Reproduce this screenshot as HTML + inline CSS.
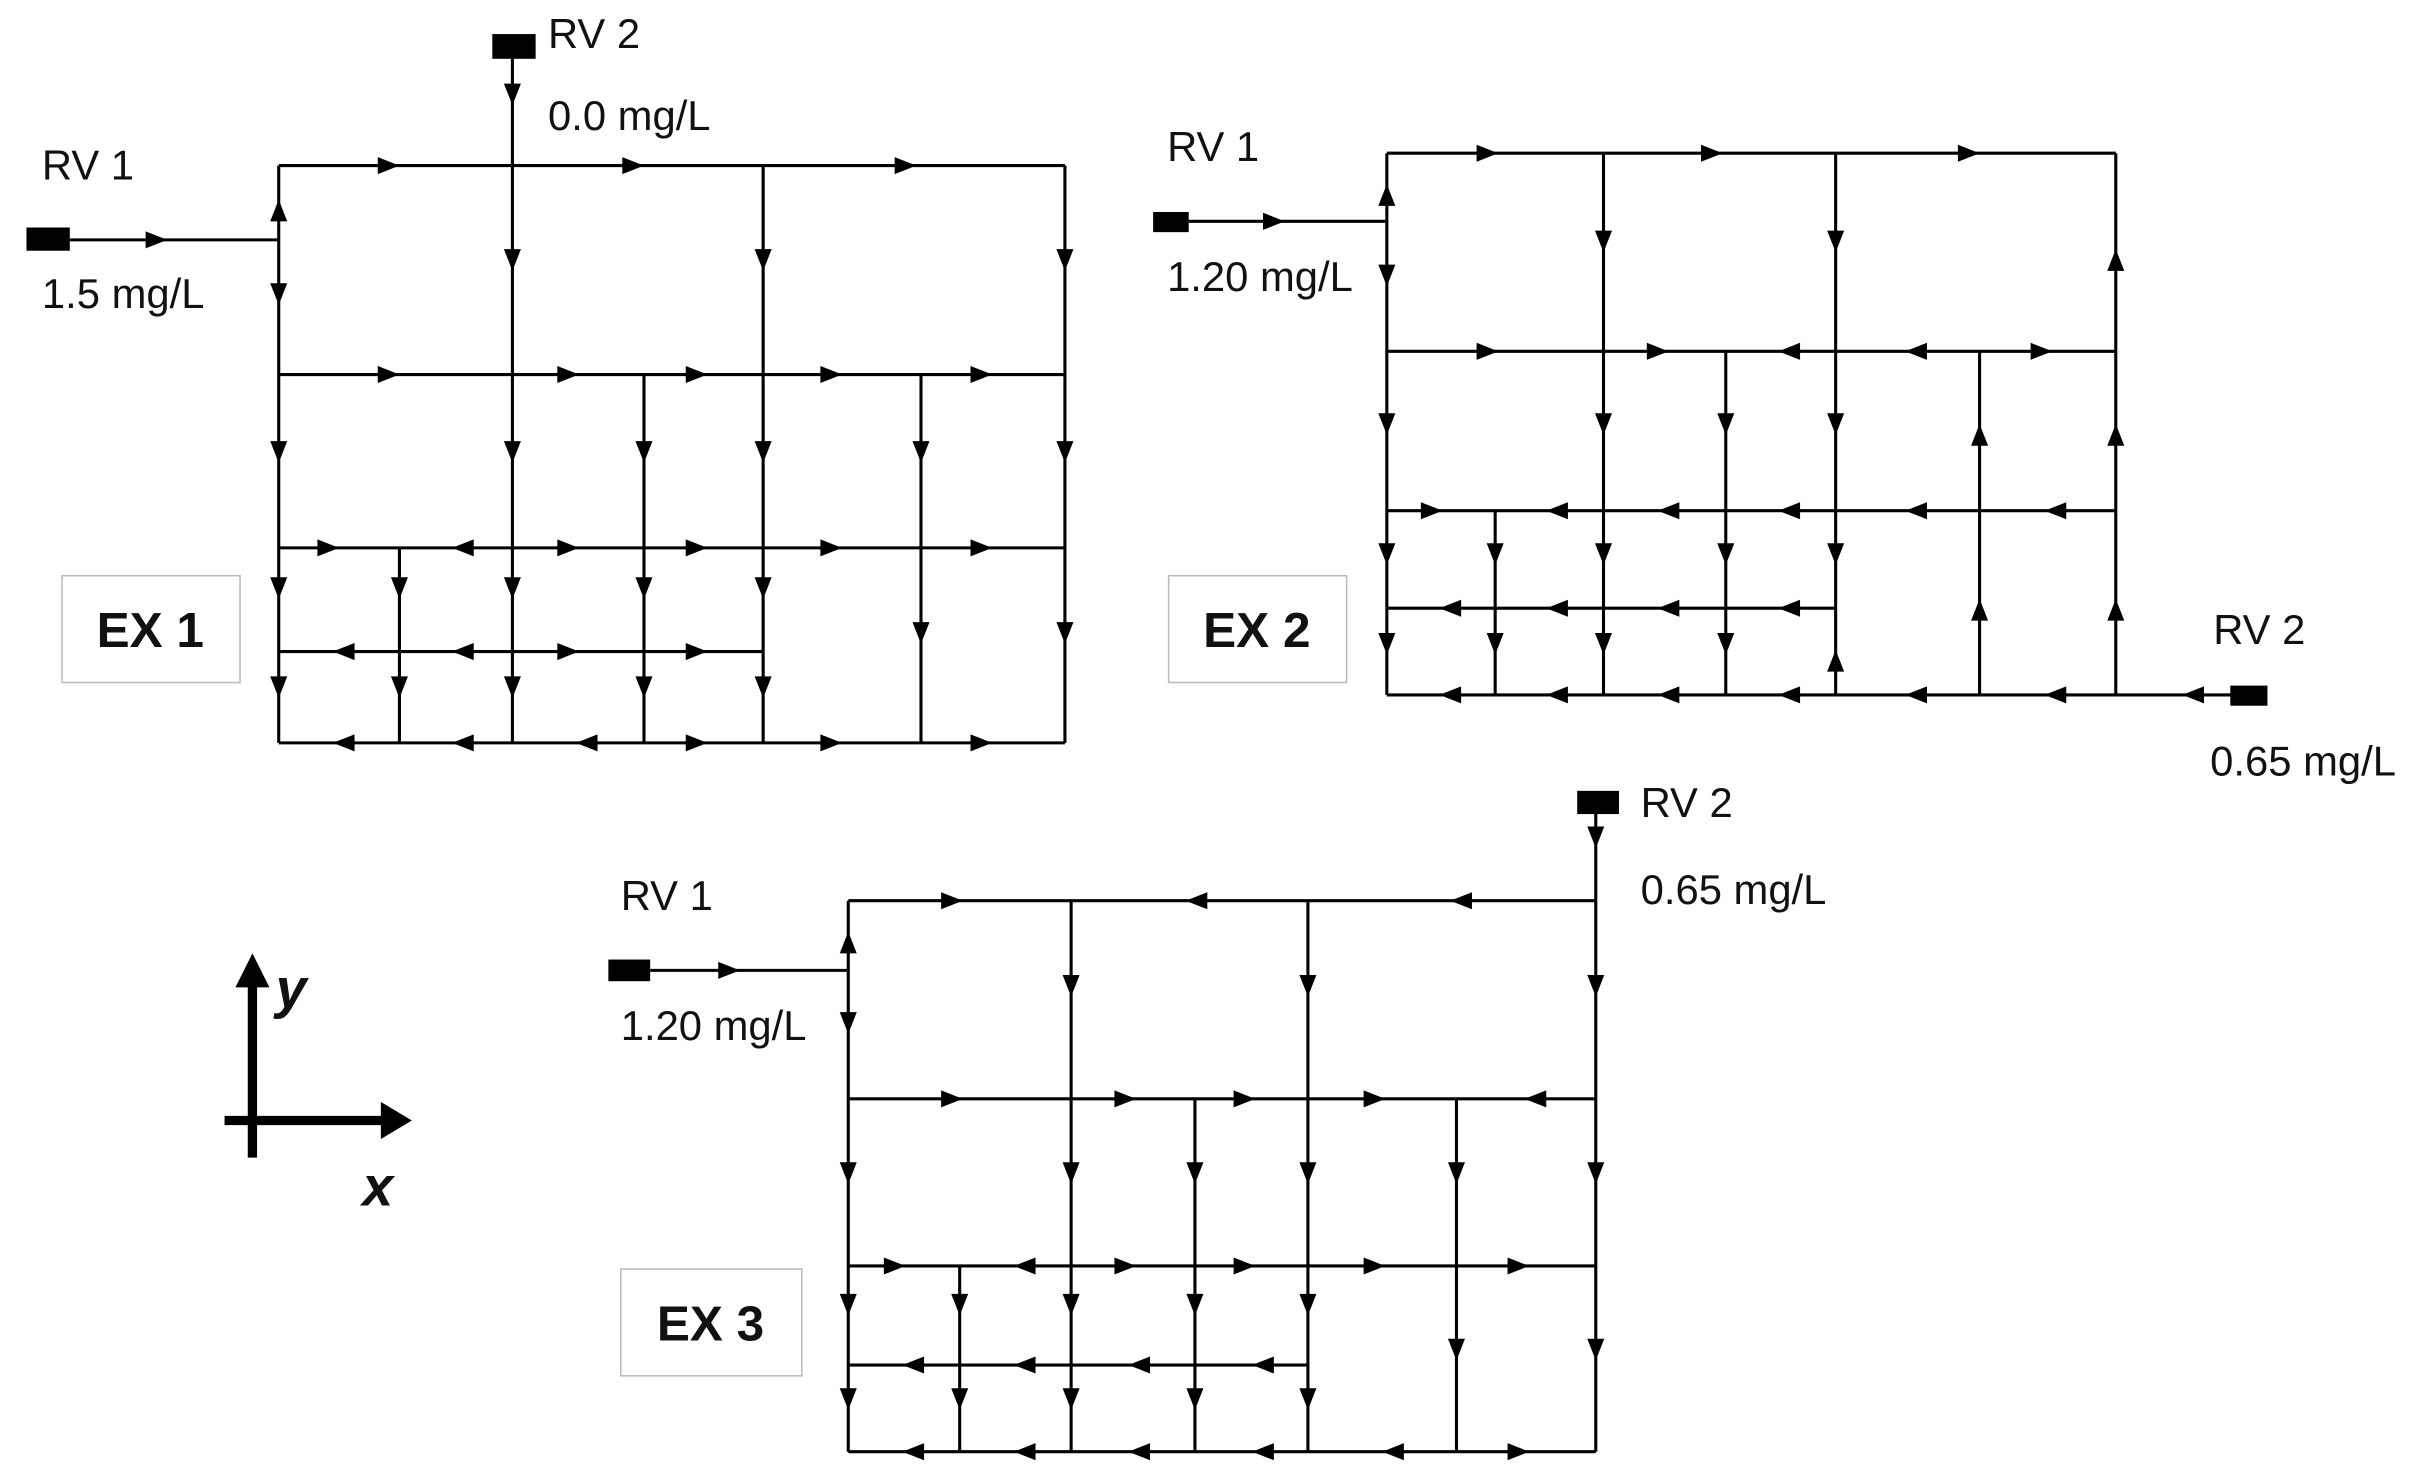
<!DOCTYPE html>
<html><head><meta charset="utf-8"><style>
html,body{margin:0;padding:0;background:#fff;}
svg{display:block;}
text{font-family:"Liberation Sans",sans-serif;fill:#111;}
</style></head><body>
<svg width="2427" height="1478" viewBox="0 0 1568 955" xmlns="http://www.w3.org/2000/svg">
<defs>
<path id="r" d="M-6,-5.5 L8,0 L-6,5.5Z" fill="#000"/>
<path id="l" d="M6,-5.5 L-8,0 L6,5.5Z" fill="#000"/>
<path id="u" d="M-5.5,6 L0,-8 L5.5,6Z" fill="#000"/>
<path id="d" d="M-5.5,-6 L0,8 L5.5,-6Z" fill="#000"/>
</defs>
<g stroke="#000" stroke-width="2" fill="none">
<path d="M180,107H688M180,242H688M180,354H688M180,421H493M180,480H688M180,107V480M331,30V480M416,242V480M493,107V480M258,354V480M595,242V480M688,107V480M45,155H180"/>
<path d="M896,99H1367M896,227H1367M896,330H1367M896,393H1186M896,449H1455M896,99V449M1036,99V449M1115,227V449M1186,99V449M966,330V449M1279,227V449M1367,99V449M768,143H896"/>
<path d="M548,582H1031M548,710H1031M548,818H1031M548,882H845M548,938H1031M548,582V938M692,582V938M772,710V938M845,582V938M620,818V938M941,710V938M1031,520V938M420,627H548"/>
</g>
<rect x="17" y="147" width="28" height="15" fill="#000"/>
<rect x="318" y="22" width="28" height="16" fill="#000"/>
<rect x="745" y="137" width="23" height="13" fill="#000"/>
<rect x="1441" y="443" width="24" height="13" fill="#000"/>
<rect x="393" y="620" width="27" height="14" fill="#000"/>
<rect x="1019" y="511" width="27" height="15" fill="#000"/>
<use href="#r" x="100" y="155"/><use href="#d" x="331" y="60"/>
<use href="#r" x="250" y="107"/><use href="#r" x="408" y="107"/><use href="#r" x="584" y="107"/>
<use href="#r" x="250" y="242"/><use href="#r" x="366" y="242"/><use href="#r" x="449" y="242"/><use href="#r" x="536" y="242"/><use href="#r" x="633" y="242"/>
<use href="#r" x="211" y="354"/><use href="#l" x="300" y="354"/><use href="#r" x="366" y="354"/><use href="#r" x="449" y="354"/><use href="#r" x="536" y="354"/><use href="#r" x="633" y="354"/>
<use href="#l" x="223" y="421"/><use href="#l" x="300" y="421"/><use href="#r" x="366" y="421"/><use href="#r" x="449" y="421"/>
<use href="#l" x="223" y="480"/><use href="#l" x="300" y="480"/><use href="#l" x="380" y="480"/><use href="#r" x="449" y="480"/><use href="#r" x="536" y="480"/><use href="#r" x="633" y="480"/>
<use href="#u" x="180" y="137"/><use href="#d" x="180" y="189"/><use href="#d" x="180" y="291"/><use href="#d" x="180" y="379"/><use href="#d" x="180" y="443"/>
<use href="#d" x="331" y="167"/><use href="#d" x="331" y="291"/><use href="#d" x="331" y="379"/><use href="#d" x="331" y="443"/>
<use href="#d" x="416" y="291"/><use href="#d" x="416" y="379"/><use href="#d" x="416" y="443"/>
<use href="#d" x="493" y="167"/><use href="#d" x="493" y="291"/><use href="#d" x="493" y="379"/><use href="#d" x="493" y="443"/>
<use href="#d" x="258" y="379"/><use href="#d" x="258" y="443"/>
<use href="#d" x="595" y="291"/><use href="#d" x="595" y="408"/>
<use href="#d" x="688" y="167"/><use href="#d" x="688" y="291"/><use href="#d" x="688" y="408"/>
<use href="#r" x="822" y="143"/>
<use href="#r" x="960" y="99"/><use href="#r" x="1105" y="99"/><use href="#r" x="1271" y="99"/>
<use href="#r" x="960" y="227"/><use href="#r" x="1070" y="227"/><use href="#l" x="1157" y="227"/><use href="#l" x="1239" y="227"/><use href="#r" x="1318" y="227"/>
<use href="#r" x="924" y="330"/><use href="#l" x="1007" y="330"/><use href="#l" x="1079" y="330"/><use href="#l" x="1157" y="330"/><use href="#l" x="1239" y="330"/><use href="#l" x="1329" y="330"/>
<use href="#l" x="938" y="393"/><use href="#l" x="1007" y="393"/><use href="#l" x="1079" y="393"/><use href="#l" x="1157" y="393"/>
<use href="#l" x="938" y="449"/><use href="#l" x="1007" y="449"/><use href="#l" x="1079" y="449"/><use href="#l" x="1157" y="449"/><use href="#l" x="1239" y="449"/><use href="#l" x="1329" y="449"/><use href="#l" x="1418" y="449"/>
<use href="#u" x="896" y="127"/><use href="#d" x="896" y="177"/><use href="#d" x="896" y="273"/><use href="#d" x="896" y="357"/><use href="#d" x="896" y="415"/>
<use href="#d" x="1036" y="155"/><use href="#d" x="1036" y="273"/><use href="#d" x="1036" y="357"/><use href="#d" x="1036" y="415"/>
<use href="#d" x="1115" y="273"/><use href="#d" x="1115" y="357"/><use href="#d" x="1115" y="415"/>
<use href="#d" x="1186" y="155"/><use href="#d" x="1186" y="273"/><use href="#d" x="1186" y="357"/><use href="#u" x="1186" y="428"/>
<use href="#d" x="966" y="357"/><use href="#d" x="966" y="415"/>
<use href="#u" x="1279" y="282"/><use href="#u" x="1279" y="395"/>
<use href="#u" x="1367" y="169"/><use href="#u" x="1367" y="282"/><use href="#u" x="1367" y="395"/>
<use href="#r" x="470" y="627"/><use href="#d" x="1031" y="540"/>
<use href="#r" x="614" y="582"/><use href="#l" x="774" y="582"/><use href="#l" x="945" y="582"/>
<use href="#r" x="614" y="710"/><use href="#r" x="726" y="710"/><use href="#r" x="803" y="710"/><use href="#r" x="887" y="710"/><use href="#l" x="993" y="710"/>
<use href="#r" x="577" y="818"/><use href="#l" x="663" y="818"/><use href="#r" x="726" y="818"/><use href="#r" x="803" y="818"/><use href="#r" x="887" y="818"/><use href="#r" x="980" y="818"/>
<use href="#l" x="591" y="882"/><use href="#l" x="663" y="882"/><use href="#l" x="737" y="882"/><use href="#l" x="817" y="882"/>
<use href="#l" x="591" y="938"/><use href="#l" x="663" y="938"/><use href="#l" x="737" y="938"/><use href="#l" x="817" y="938"/><use href="#l" x="901" y="938"/><use href="#r" x="980" y="938"/>
<use href="#u" x="548" y="610"/><use href="#d" x="548" y="660"/><use href="#d" x="548" y="757"/><use href="#d" x="548" y="842"/><use href="#d" x="548" y="903"/>
<use href="#d" x="692" y="636"/><use href="#d" x="692" y="757"/><use href="#d" x="692" y="842"/><use href="#d" x="692" y="903"/>
<use href="#d" x="772" y="757"/><use href="#d" x="772" y="842"/><use href="#d" x="772" y="903"/>
<use href="#d" x="845" y="636"/><use href="#d" x="845" y="757"/><use href="#d" x="845" y="842"/><use href="#d" x="845" y="903"/>
<use href="#d" x="620" y="842"/><use href="#d" x="620" y="903"/>
<use href="#d" x="941" y="757"/><use href="#d" x="941" y="871"/>
<use href="#d" x="1031" y="636"/><use href="#d" x="1031" y="757"/><use href="#d" x="1031" y="871"/>
<g font-size="27">
<text x="27" y="116">RV 1</text><text x="27" y="199">1.5 mg/L</text>
<text x="354" y="31">RV 2</text><text x="354" y="84">0.0 mg/L</text>
<text x="754" y="104">RV 1</text><text x="754" y="188">1.20 mg/L</text>
<text x="1430" y="416">RV 2</text><text x="1428" y="501">0.65 mg/L</text>
<text x="401" y="588">RV 1</text><text x="401" y="672">1.20 mg/L</text>
<text x="1060" y="528">RV 2</text><text x="1060" y="584">0.65 mg/L</text>
</g>
<g fill="#fff" stroke="#bbb" stroke-width="1">
<rect x="40" y="372" width="115" height="69"/><rect x="755" y="372" width="115" height="69"/><rect x="401" y="820" width="117" height="69"/>
</g>
<g font-size="32" font-weight="bold" text-anchor="middle">
<text x="97" y="418">EX 1</text><text x="812" y="418">EX 2</text><text x="459" y="866">EX 3</text>
</g>
<g stroke="#000" stroke-width="6" fill="none"><path d="M163,634V748M145,724H250"/></g>
<path d="M152,638L163,616L174,638Z" fill="#000"/>
<path d="M246,712L266,724L246,736Z" fill="#000"/>
<text x="178" y="651" font-family="Liberation Serif,serif" font-style="italic" font-weight="bold" font-size="36">y</text>
<text x="234" y="779" font-family="Liberation Serif,serif" font-style="italic" font-weight="bold" font-size="36">x</text>
</svg>
</body></html>
